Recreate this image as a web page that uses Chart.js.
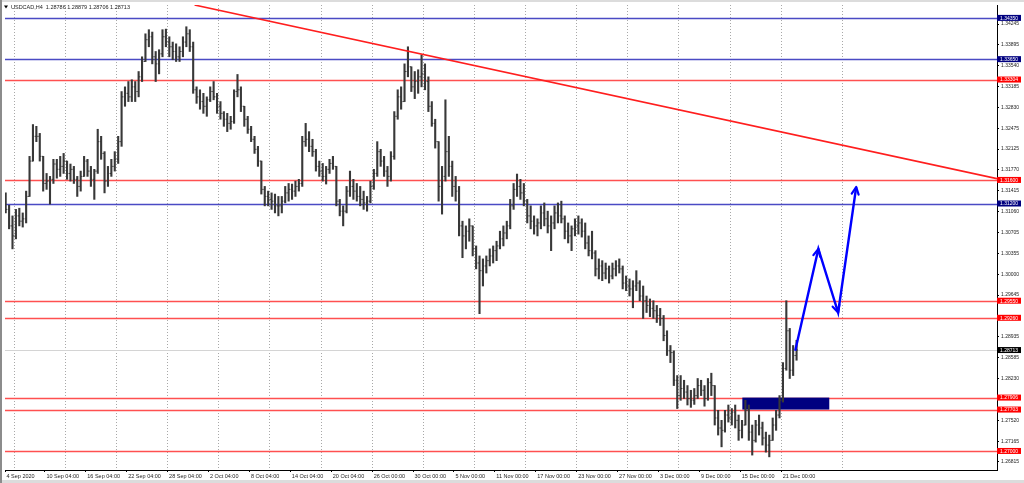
<!DOCTYPE html>
<html>
<head>
<meta charset="utf-8">
<script src="https://cdn.jsdelivr.net/npm/chart.js@4.4.0/dist/chart.umd.min.js"></script>
<style>
  html, body { margin: 0; padding: 0; background: #fff; }
  #wrap { width: 1024px; height: 483px; }
</style>
</head>
<body>
<div id="wrap"><canvas id="chart" width="1024" height="483"></canvas></div>
<script>
// USDCAD H4: una barra ogni 8 ore (2 barre H4)
const symbolTitle = "USDCAD,H4  1.28786 1.28879 1.28706 1.28713";

const opens = [
  1.3124, 1.3110, 1.3082, 1.3065, 1.3099, 1.3090, 1.3094, 1.3132, 1.3192, 1.3234,
  1.3234, 1.3200, 1.3154, 1.3158, 1.3161, 1.3187, 1.3178, 1.3183, 1.3192, 1.3171,
  1.3178, 1.3161, 1.3149, 1.3166, 1.3192, 1.3175, 1.3161, 1.3175, 1.3225, 1.3205,
  1.3158, 1.3171, 1.3183, 1.3195, 1.3225, 1.3301, 1.3307, 1.3301, 1.3318, 1.3310,
  1.3335, 1.3361, 1.3398, 1.3403, 1.3369, 1.3357, 1.3374, 1.3403, 1.3394, 1.3386,
  1.3378, 1.3369, 1.3378, 1.3394, 1.3408, 1.3386, 1.3313, 1.3301, 1.3293, 1.3285,
  1.3296, 1.3310, 1.3301, 1.3285, 1.3273, 1.3263, 1.3256, 1.3259, 1.3310, 1.3313,
  1.3285, 1.3263, 1.3246, 1.3229, 1.3212, 1.3192, 1.3144, 1.3132, 1.3127, 1.3124,
  1.3116, 1.3116, 1.3124, 1.3138, 1.3144, 1.3141, 1.3149, 1.3154, 1.3225, 1.3229,
  1.3217, 1.3208, 1.3183, 1.3175, 1.3166, 1.3178, 1.3188, 1.3183, 1.3124, 1.3107,
  1.3107, 1.3141, 1.3149, 1.3141, 1.3132, 1.3127, 1.3121, 1.3124, 1.3149, 1.3171,
  1.3208, 1.3192, 1.3175, 1.3166, 1.3200, 1.3268, 1.3301, 1.3293, 1.3344, 1.3352,
  1.3318, 1.3327, 1.3335, 1.3340, 1.3327, 1.3285, 1.3256, 1.3225, 1.3149, 1.3166,
  1.3208, 1.3183, 1.3149, 1.3141, 1.3082, 1.3065, 1.3073, 1.3082, 1.3043, 1.3019,
  1.3006, 1.3014, 1.3023, 1.3031, 1.3040, 1.3048, 1.3060, 1.3070, 1.3082, 1.3116,
  1.3144, 1.3149, 1.3138, 1.3124, 1.3099, 1.3090, 1.3082, 1.3087, 1.3104, 1.3094,
  1.3082, 1.3087, 1.3104, 1.3099, 1.3094, 1.3073, 1.3065, 1.3077, 1.3082, 1.3087,
  1.3073, 1.3053, 1.3040, 1.3036, 1.3009, 1.3014, 1.3002, 1.3009, 1.2997, 1.3009,
  1.3014, 1.3009, 1.2985, 1.2980, 1.2975, 1.2980, 1.2985, 1.2963, 1.2955, 1.2947,
  1.2942, 1.2938, 1.2930, 1.2925, 1.2896, 1.2870, 1.2867, 1.2820, 1.2794, 1.2806,
  1.2800, 1.2789, 1.2786, 1.2794, 1.2811, 1.2803, 1.2789, 1.2816, 1.2811, 1.2756,
  1.2739, 1.2735, 1.2761, 1.2756, 1.2766, 1.2752, 1.2735, 1.2744, 1.2769, 1.2732,
  1.2718, 1.2744, 1.2739, 1.2722, 1.2710, 1.2718, 1.2744, 1.2761, 1.2786, 1.2840,
  1.2904, 1.2837, 1.2862
];

const highs = [
  1.3138, 1.3117, 1.3099, 1.3110, 1.3112, 1.3104, 1.3141, 1.3200, 1.3254, 1.3251,
  1.3239, 1.3200, 1.3171, 1.3166, 1.3195, 1.3195, 1.3200, 1.3205, 1.3192, 1.3187,
  1.3183, 1.3166, 1.3175, 1.3200, 1.3195, 1.3183, 1.3178, 1.3246, 1.3234, 1.3208,
  1.3183, 1.3195, 1.3208, 1.3234, 1.3310, 1.3318, 1.3327, 1.3330, 1.3327, 1.3344,
  1.3369, 1.3408, 1.3415, 1.3411, 1.3378, 1.3381, 1.3415, 1.3416, 1.3403, 1.3394,
  1.3391, 1.3386, 1.3403, 1.3420, 1.3415, 1.3394, 1.3318, 1.3313, 1.3307, 1.3301,
  1.3318, 1.3327, 1.3307, 1.3293, 1.3276, 1.3273, 1.3268, 1.3313, 1.3339, 1.3318,
  1.3285, 1.3268, 1.3251, 1.3234, 1.3217, 1.3192, 1.3149, 1.3141, 1.3138, 1.3136,
  1.3132, 1.3132, 1.3149, 1.3154, 1.3153, 1.3158, 1.3161, 1.3234, 1.3256, 1.3242,
  1.3229, 1.3212, 1.3192, 1.3188, 1.3183, 1.3195, 1.3200, 1.3183, 1.3127, 1.3116,
  1.3149, 1.3175, 1.3161, 1.3154, 1.3149, 1.3141, 1.3132, 1.3158, 1.3178, 1.3225,
  1.3212, 1.3200, 1.3183, 1.3208, 1.3276, 1.3313, 1.3318, 1.3357, 1.3386, 1.3352,
  1.3344, 1.3347, 1.3372, 1.3357, 1.3335, 1.3293, 1.3263, 1.3225, 1.3183, 1.3296,
  1.3234, 1.3192, 1.3166, 1.3149, 1.3090, 1.3082, 1.3094, 1.3082, 1.3048, 1.3031,
  1.3026, 1.3031, 1.3043, 1.3048, 1.3056, 1.3073, 1.3082, 1.3090, 1.3127, 1.3154,
  1.3170, 1.3161, 1.3154, 1.3127, 1.3116, 1.3099, 1.3094, 1.3116, 1.3121, 1.3107,
  1.3099, 1.3116, 1.3121, 1.3124, 1.3099, 1.3087, 1.3082, 1.3094, 1.3099, 1.3094,
  1.3087, 1.3065, 1.3073, 1.3040, 1.3026, 1.3023, 1.3019, 1.3014, 1.3019, 1.3023,
  1.3026, 1.3014, 1.2997, 1.2992, 1.2989, 1.3006, 1.2989, 1.2980, 1.2963, 1.2958,
  1.2955, 1.2947, 1.2942, 1.2930, 1.2904, 1.2879, 1.2870, 1.2828, 1.2828, 1.2820,
  1.2811, 1.2803, 1.2806, 1.2823, 1.2820, 1.2811, 1.2823, 1.2832, 1.2811, 1.2769,
  1.2752, 1.2769, 1.2778, 1.2772, 1.2778, 1.2761, 1.2752, 1.2786, 1.2778, 1.2744,
  1.2752, 1.2761, 1.2749, 1.2732, 1.2727, 1.2756, 1.2769, 1.2794, 1.2850, 1.2955,
  1.2908, 1.2879, 1.28879
];

const lows = [
  1.3104, 1.3077, 1.3043, 1.3060, 1.3082, 1.3080, 1.3087, 1.3132, 1.3192, 1.3225,
  1.3192, 1.3141, 1.3144, 1.3119, 1.3154, 1.3163, 1.3166, 1.3171, 1.3161, 1.3158,
  1.3154, 1.3132, 1.3141, 1.3166, 1.3166, 1.3149, 1.3127, 1.3171, 1.3195, 1.3138,
  1.3149, 1.3166, 1.3175, 1.3188, 1.3217, 1.3285, 1.3293, 1.3293, 1.3293, 1.3301,
  1.3327, 1.3361, 1.3386, 1.3357, 1.3327, 1.3340, 1.3369, 1.3386, 1.3369, 1.3364,
  1.3361, 1.3361, 1.3369, 1.3386, 1.3378, 1.3307, 1.3290, 1.3280, 1.3273, 1.3268,
  1.3293, 1.3296, 1.3273, 1.3263, 1.3251, 1.3242, 1.3246, 1.3256, 1.3301, 1.3276,
  1.3251, 1.3239, 1.3225, 1.3205, 1.3183, 1.3136, 1.3116, 1.3116, 1.3110, 1.3104,
  1.3099, 1.3104, 1.3121, 1.3124, 1.3127, 1.3132, 1.3141, 1.3149, 1.3217, 1.3208,
  1.3200, 1.3175, 1.3166, 1.3158, 1.3153, 1.3171, 1.3178, 1.3116, 1.3099, 1.3082,
  1.3104, 1.3132, 1.3127, 1.3124, 1.3116, 1.3110, 1.3107, 1.3121, 1.3144, 1.3166,
  1.3183, 1.3166, 1.3149, 1.3158, 1.3195, 1.3263, 1.3280, 1.3293, 1.3335, 1.3310,
  1.3298, 1.3307, 1.3318, 1.3313, 1.3276, 1.3251, 1.3214, 1.3124, 1.3102, 1.3158,
  1.3166, 1.3132, 1.3124, 1.3065, 1.3028, 1.3043, 1.3056, 1.3031, 1.3009, 1.2933,
  1.2980, 1.3002, 1.3014, 1.3019, 1.3023, 1.3043, 1.3048, 1.3060, 1.3077, 1.3110,
  1.3132, 1.3127, 1.3116, 1.3087, 1.3077, 1.3068, 1.3065, 1.3077, 1.3082, 1.3070,
  1.3040, 1.3077, 1.3087, 1.3087, 1.3060, 1.3053, 1.3040, 1.3065, 1.3068, 1.3063,
  1.3043, 1.3031, 1.3026, 1.2997, 1.2992, 1.2989, 1.2992, 1.2985, 1.2992, 1.2997,
  1.3002, 1.2975, 1.2972, 1.2963, 1.2943, 1.2972, 1.2955, 1.2925, 1.2935, 1.2928,
  1.2925, 1.2918, 1.2913, 1.2887, 1.2862, 1.2850, 1.2811, 1.2772, 1.2786, 1.2789,
  1.2778, 1.2774, 1.2779, 1.2789, 1.2794, 1.2776, 1.2786, 1.2794, 1.2744, 1.2727,
  1.2707, 1.2732, 1.2749, 1.2744, 1.2739, 1.2718, 1.2722, 1.2744, 1.2718, 1.2693,
  1.2715, 1.2727, 1.2710, 1.2698, 1.2690, 1.2718, 1.2735, 1.2756, 1.2783, 1.2837,
  1.2823, 1.2828, 1.2854
];

const closes = [
  1.3110, 1.3082, 1.3065, 1.3099, 1.3090, 1.3094, 1.3132, 1.3192, 1.3234, 1.3234,
  1.3200, 1.3154, 1.3158, 1.3161, 1.3187, 1.3178, 1.3183, 1.3192, 1.3171, 1.3178,
  1.3161, 1.3149, 1.3166, 1.3192, 1.3175, 1.3161, 1.3175, 1.3225, 1.3205, 1.3158,
  1.3171, 1.3183, 1.3195, 1.3225, 1.3301, 1.3307, 1.3301, 1.3318, 1.3310, 1.3335,
  1.3361, 1.3398, 1.3403, 1.3369, 1.3357, 1.3374, 1.3403, 1.3394, 1.3386, 1.3378,
  1.3369, 1.3378, 1.3394, 1.3408, 1.3386, 1.3313, 1.3301, 1.3293, 1.3285, 1.3296,
  1.3310, 1.3301, 1.3285, 1.3273, 1.3263, 1.3256, 1.3259, 1.3310, 1.3313, 1.3285,
  1.3263, 1.3246, 1.3229, 1.3212, 1.3192, 1.3144, 1.3132, 1.3127, 1.3124, 1.3116,
  1.3116, 1.3124, 1.3138, 1.3144, 1.3141, 1.3149, 1.3154, 1.3225, 1.3229, 1.3217,
  1.3208, 1.3183, 1.3175, 1.3166, 1.3178, 1.3188, 1.3183, 1.3124, 1.3107, 1.3107,
  1.3141, 1.3149, 1.3141, 1.3132, 1.3127, 1.3121, 1.3124, 1.3149, 1.3171, 1.3208,
  1.3192, 1.3175, 1.3166, 1.3200, 1.3268, 1.3301, 1.3293, 1.3344, 1.3352, 1.3318,
  1.3327, 1.3335, 1.3340, 1.3327, 1.3285, 1.3256, 1.3225, 1.3149, 1.3166, 1.3208,
  1.3183, 1.3149, 1.3141, 1.3082, 1.3065, 1.3073, 1.3082, 1.3043, 1.3019, 1.3006,
  1.3014, 1.3023, 1.3031, 1.3040, 1.3048, 1.3060, 1.3070, 1.3082, 1.3116, 1.3144,
  1.3149, 1.3138, 1.3124, 1.3099, 1.3090, 1.3082, 1.3087, 1.3104, 1.3094, 1.3082,
  1.3087, 1.3104, 1.3099, 1.3094, 1.3073, 1.3065, 1.3077, 1.3082, 1.3087, 1.3073,
  1.3053, 1.3040, 1.3036, 1.3009, 1.3014, 1.3002, 1.3009, 1.2997, 1.3009, 1.3014,
  1.3009, 1.2985, 1.2980, 1.2975, 1.2980, 1.2985, 1.2963, 1.2955, 1.2947, 1.2942,
  1.2938, 1.2930, 1.2925, 1.2896, 1.2870, 1.2867, 1.2820, 1.2794, 1.2806, 1.2800,
  1.2789, 1.2786, 1.2794, 1.2811, 1.2803, 1.2789, 1.2816, 1.2811, 1.2756, 1.2739,
  1.2735, 1.2761, 1.2756, 1.2766, 1.2752, 1.2735, 1.2744, 1.2769, 1.2732, 1.2718,
  1.2744, 1.2739, 1.2722, 1.2710, 1.2718, 1.2744, 1.2761, 1.2786, 1.2840, 1.2904,
  1.2837, 1.2862, 1.28713
];

// etichette asse tempo e loro posizione (indice barra)
const timeLabels = ["4 Sep 2020", "10 Sep 04:00", "16 Sep 04:00", "22 Sep 04:00", "28 Sep 04:00",
  "2 Oct 04:00", "8 Oct 04:00", "14 Oct 04:00", "20 Oct 04:00", "26 Oct 00:00", "30 Oct 00:00",
  "5 Nov 00:00", "11 Nov 00:00", "17 Nov 00:00", "23 Nov 00:00", "27 Nov 00:00", "3 Dec 00:00",
  "9 Dec 00:00", "15 Dec 00:00", "21 Dec 00:00"];
const timeTicks = [-0.2, 11.5, 23.5, 35.5, 47.5, 59.5, 71.5, 83.5, 95.5, 107.5, 119.5,
  131.5, 143.5, 155.5, 167.5, 179.5, 191.5, 203.5, 215.5, 227.5];
const gridTicks = [2.5, 17.5, 32.5, 47.5, 62.5, 77.5, 92.5, 107.5, 122.5, 137.5, 152.5,
  167.5, 182.5, 197.5, 212.5, 227.5, 245.5];

// etichette asse prezzi
const priceTicks = [1.34245, 1.33895, 1.33540, 1.33185, 1.32830, 1.32475, 1.32125, 1.31770,
  1.31415, 1.31060, 1.30705, 1.30355, 1.30000, 1.29645, 1.28935, 1.28585, 1.28230,
  1.27520, 1.27165, 1.26815];

// livelli orizzontali
const blueLevels = [1.34350, 1.33650, 1.31200];
const redLevels = [1.33304, 1.31600, 1.29550, 1.29260, 1.27906, 1.27703, 1.27000];
const lastPrice = 1.28713;

// oggetti disegnati: trendline, frecce, zona
const trendLine = [{ x: 55.4, y: 1.34569 }, { x: 290.8, y: 1.31622 }];
const arrowPath = [{ x: 231.6, y: 1.2870 }, { x: 238.4, y: 1.3043 }, { x: 244.2, y: 1.2935 }, { x: 249.5, y: 1.3148 }];
const zoneBars = [216.1, 241.6];
const zonePrices = [1.27906, 1.27703];

const X_MIN = -0.2, X_MAX = 290.8;
const Y_MIN = 1.26677, Y_MAX = 1.34569;
const FONT = "'Liberation Sans', Arial, sans-serif";
const BAR_COLOR = "#383838";

const datasets = [];

// barre high-low
datasets.push({
  type: "bar",
  data: highs.map((h, i) => ({ x: i, y: [lows[i], h] })),
  backgroundColor: BAR_COLOR,
  barThickness: 1.45,
  grouped: false,
  order: 3
});
// tacca apertura (a sinistra) e chiusura (a destra)
datasets.push({
  type: "line",
  data: opens.map((o, i) => ({ x: i, y: o })),
  showLine: false,
  pointStyle: "dash",
  pointRotation: 180,
  pointRadius: 1.4,
  pointBorderWidth: 1,
  pointBorderColor: BAR_COLOR,
  order: 2
});
datasets.push({
  type: "line",
  data: closes.map((c, i) => ({ x: i, y: c })),
  showLine: false,
  pointStyle: "dash",
  pointRotation: 0,
  pointRadius: 1.4,
  pointBorderWidth: 1,
  pointBorderColor: BAR_COLOR,
  order: 2
});
datasets.push({
  type: "line",
  data: trendLine,
  borderColor: "#ff1e1e",
  borderWidth: 1.6,
  pointRadius: 0,
  order: 1
});
datasets.push({
  type: "line",
  data: arrowPath,
  borderColor: "#0000ff",
  borderWidth: 2.4,
  pointRadius: 0,
  tension: 0,
  order: 0
});

// sfondo e cornice finestra
const chromePlugin = {
  id: "chrome",
  beforeDraw(chart) {
    const { ctx, width, height } = chart;
    ctx.save();
    ctx.fillStyle = "#fff";
    ctx.fillRect(0, 0, width, height);
    ctx.fillStyle = "#dcdcdc";
    ctx.fillRect(0, 0, width, 2);
    ctx.fillRect(0, height - 3, width, 3);
    ctx.fillStyle = "#8c8c8c";
    ctx.fillRect(0, 0, 2, height);
    ctx.restore();
  }
};

// livelli orizzontali e rettangolo, sotto le barre
const levelsPlugin = {
  id: "levels",
  beforeDatasetsDraw(chart) {
    const { ctx, scales, chartArea } = chart;
    ctx.save();
    const hline = (v, color, w) => {
      const py = Math.round(scales.y.getPixelForValue(v)) + 0.5;
      ctx.strokeStyle = color;
      ctx.lineWidth = w;
      ctx.beginPath();
      ctx.moveTo(chartArea.left, py);
      ctx.lineTo(chartArea.right, py);
      ctx.stroke();
    };
    hline(lastPrice, "#d4d4d4", 1);
    blueLevels.forEach(v => hline(v, "#4a4ac4", 1.3));
    redLevels.forEach(v => hline(v, "#ff5050", 1.3));

    const x0 = scales.x.getPixelForValue(zoneBars[0]);
    const x1 = scales.x.getPixelForValue(zoneBars[1]);
    const y0 = scales.y.getPixelForValue(zonePrices[0]);
    const y1 = scales.y.getPixelForValue(zonePrices[1]);
    ctx.fillStyle = "#000080";
    ctx.fillRect(x0, y0, x1 - x0, y1 - y0);
    ctx.restore();
  }
};

// punte delle frecce
const arrowHeads = {
  id: "arrowHeads",
  afterDatasetsDraw(chart) {
    const { ctx, scales } = chart;
    ctx.save();
    ctx.strokeStyle = "#0000ff";
    ctx.lineWidth = 2.2;
    ctx.lineCap = "round";
    for (let i = 1; i < arrowPath.length; i++) {
      const ax = scales.x.getPixelForValue(arrowPath[i - 1].x);
      const ay = scales.y.getPixelForValue(arrowPath[i - 1].y);
      const bx = scales.x.getPixelForValue(arrowPath[i].x);
      const by = scales.y.getPixelForValue(arrowPath[i].y);
      const ang = Math.atan2(by - ay, bx - ax);
      ctx.beginPath();
      [-0.45, 0.45].forEach(d => {
        ctx.moveTo(bx, by);
        ctx.lineTo(bx - 8 * Math.cos(ang + d), by - 8 * Math.sin(ang + d));
      });
      ctx.stroke();
    }
    ctx.restore();
  }
};

// etichette colorate sull'asse prezzi + titolo
const tagsPlugin = {
  id: "tags",
  afterDraw(chart) {
    const { ctx, scales, chartArea } = chart;
    ctx.save();
    ctx.font = "5px " + FONT;
    ctx.textBaseline = "middle";
    const tag = (v, bg) => {
      const py = scales.y.getPixelForValue(v);
      ctx.fillStyle = bg;
      ctx.fillRect(chartArea.right, py - 3, 24, 6);
      ctx.fillStyle = "#fff";
      ctx.fillText(v.toFixed(5), chartArea.right + 3, py + 0.5);
    };
    blueLevels.forEach(v => tag(v, "#000080"));
    redLevels.forEach(v => tag(v, "#ff0000"));
    tag(lastPrice, "#000");

    // titolo in alto a sinistra
    ctx.fillStyle = "#000";
    ctx.beginPath();
    ctx.moveTo(4, 5.5);
    ctx.lineTo(8, 5.5);
    ctx.lineTo(6, 8.5);
    ctx.closePath();
    ctx.fill();
    ctx.font = "5.5px " + FONT;
    ctx.fillStyle = "#222";
    ctx.fillText(symbolTitle, 11, 7.5);
    ctx.restore();
  }
};

new Chart(document.getElementById("chart"), {
  type: "bar",
  data: { datasets },
  options: {
    responsive: false,
    animation: false,
    events: [],
    layout: { padding: { left: 3, top: 3, right: 0, bottom: 0 } },
    plugins: { legend: { display: false }, tooltip: { enabled: false } },
    scales: {
      x: {
        type: "linear",
        min: X_MIN,
        max: X_MAX,
        offset: false,
        position: "bottom",
        afterBuildTicks: s => { s.ticks = timeTicks.map(v => ({ value: v })); },
        afterFit: s => { s.height = 13; },
        ticks: {
          autoSkip: false,
          maxRotation: 0,
          align: "start",
          labelOffset: 1.5,
          padding: 1,
          color: "#222",
          font: { size: 5.5, family: FONT },
          callback: (v, i) => timeLabels[i]
        },
        grid: { drawOnChartArea: false, offset: false, tickLength: 2, color: "#000" },
        border: { color: "#000" }
      },
      xg: {
        type: "linear",
        min: X_MIN,
        max: X_MAX,
        offset: false,
        position: "bottom",
        afterBuildTicks: s => { s.ticks = gridTicks.map(v => ({ value: v })); },
        afterFit: s => { s.height = 0; },
        ticks: { display: false },
        grid: { color: "#a8a8a8", drawTicks: false, offset: false },
        border: { display: false, dash: [1, 2] }
      },
      y: {
        type: "linear",
        position: "right",
        min: Y_MIN,
        max: Y_MAX,
        beginAtZero: false,
        afterBuildTicks: s => { s.ticks = priceTicks.map(v => ({ value: v })); },
        afterFit: s => { s.width = 27; },
        ticks: {
          padding: 2,
          color: "#222",
          font: { size: 5, family: FONT },
          callback: v => v.toFixed(5)
        },
        grid: { drawOnChartArea: false, tickLength: 2, color: "#000" },
        border: { color: "#000" }
      }
    }
  },
  plugins: [chromePlugin, levelsPlugin, arrowHeads, tagsPlugin]
});
</script>
</body>
</html>
